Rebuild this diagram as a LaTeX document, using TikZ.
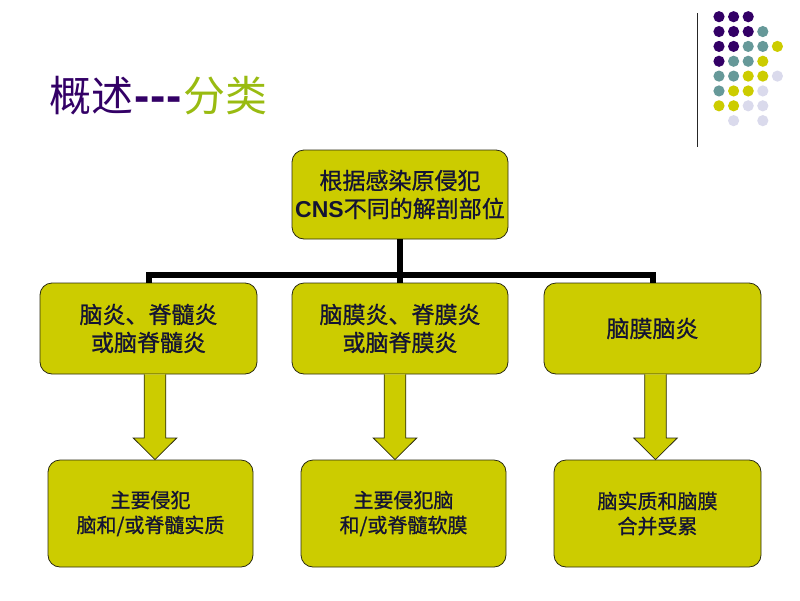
\documentclass[tikz,border=0pt]{standalone}
\usepackage{fontspec}
\setmainfont{Noto Sans CJK SC}
\newfontfamily\boxfont{Noto Sans CJK SC}[FakeBold=1]
\newfontfamily\latinf{Liberation Sans}
\usetikzlibrary{calc}
\definecolor{boxy}{HTML}{CCCC00}
\definecolor{boxedge}{HTML}{2B2B10}
\definecolor{txt}{HTML}{141433}
\definecolor{dp}{HTML}{330066}
\definecolor{dt}{HTML}{669999}
\definecolor{dy}{HTML}{CCCC00}
\definecolor{dl}{HTML}{DADAEC}
\definecolor{tgreen}{HTML}{99BB11}
\newcommand\myarrow[3]{%
  \fill[boxy] ($(#1|-#2.south)+(-10.8,0)$) -- ($(#1|-#3.north)+(-10.8,-21.6)$) -- ($(#1|-#3.north)+(-21.7,-21.6)$) -- (#1|-#3.north) -- ($(#1|-#3.north)+(21.7,-21.6)$) -- ($(#1|-#3.north)+(10.8,-21.6)$) -- ($(#1|-#2.south)+(10.8,0)$) -- cycle;
  \draw[boxedge, line width=0.8, line join=miter] ($(#1|-#2.south)+(-10.8,0)$) -- ($(#1|-#3.north)+(-10.8,-21.6)$) -- ($(#1|-#3.north)+(-21.7,-21.6)$) -- (#1|-#3.north) -- ($(#1|-#3.north)+(21.7,-21.6)$) -- ($(#1|-#3.north)+(10.8,-21.6)$) -- ($(#1|-#2.south)+(10.8,0)$);
}
\begin{document}
\begin{tikzpicture}[x=1pt,y=-1pt,
  box/.style={draw=boxedge, line width=0.8pt, fill=boxy, rounded corners=12pt, text=txt, align=center, inner sep=0pt},
  bigtxt/.style={font=\boxfont\fontsize{23}{28}\selectfont},
  smalltxt/.style={font=\boxfont\fontsize{20}{25}\selectfont},
  conn/.style={line width=6pt, black, line join=miter}]
\useasboundingbox (0,0) rectangle (800,600);
% decoration
\draw[line width=1.3pt, black!85] (697.3,13) -- (697.3,147);
\foreach \r/\c/\col in {0/0/dp,0/1/dp,0/2/dp,
  1/0/dp,1/1/dp,1/2/dp,1/3/dt,
  2/0/dp,2/1/dp,2/2/dt,2/3/dt,2/4/dy,
  3/0/dp,3/1/dt,3/2/dt,3/3/dy,
  4/0/dt,4/1/dt,4/2/dy,4/3/dy,4/4/dl,
  5/0/dt,5/1/dy,5/2/dy,5/3/dl,
  6/0/dy,6/1/dy,6/2/dl,6/3/dl,
  7/1/dl,7/3/dl}
  \fill[\col] (719+14.6*\c, 16.7+14.85*\r) circle (5.6);
% title
\node[anchor=west, inner sep=0pt, font=\fontsize{42}{42}\selectfont] (title) at (49,96)
  {\textcolor{dp}{概述}\textcolor{dp}{\latinf\bfseries\fontsize{46}{46}\selectfont\kern1pt -\kern1pt-\kern1pt-\kern1pt}\textcolor{tgreen}{分类}};
% boxes
\node[box, bigtxt, minimum width=216, minimum height=89] (top) at (400,194.5)
  {根据感染原侵犯\\{\latinf\bfseries CNS}不同的解剖部位};
\node[box, bigtxt, minimum width=217, minimum height=91] (m1) at (148.5,328.5) {脑炎、脊髓炎\\或脑脊髓炎};
\node[box, bigtxt, minimum width=216, minimum height=91] (m2) at (400,328.5) {脑膜炎、脊膜炎\\或脑脊膜炎};
\node[box, bigtxt, minimum width=217, minimum height=91] (m3) at (652.5,328.5) {脑膜脑炎};
% connectors
\coordinate (bus) at (400,275);
\draw[conn] (top.south) -- (m2.north);
\draw[conn] (m1.north) -- (m1.north |- bus) -- (m3.north |- bus) -- (m3.north);
% block arrows
\coordinate (a1) at (155,0);
\coordinate (a2) at (395,0);
\coordinate (a3) at (655.5,0);
\node[box, smalltxt, minimum width=205, minimum height=107] (b1) at (150.5,513.5) {主要侵犯\\脑和/或脊髓实质};
\node[box, smalltxt, minimum width=205, minimum height=107] (b2) at (403.5,513.5) {主要侵犯脑\\和/或脊髓软膜};
\node[box, smalltxt, minimum width=207, minimum height=107] (b3) at (657.5,513.5) {脑实质和脑膜\\合并受累};
\myarrow{a1}{m1}{b1}
\myarrow{a2}{m2}{b2}
\myarrow{a3}{m3}{b3}
\end{tikzpicture}
\end{document}
